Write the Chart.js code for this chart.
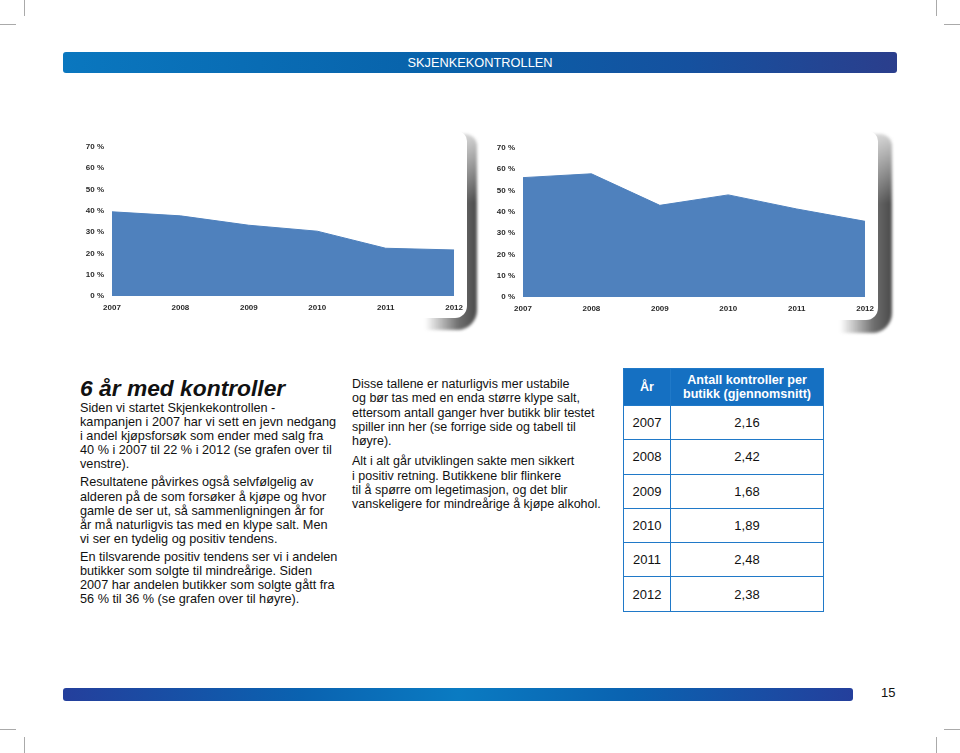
<!DOCTYPE html>
<html>
<head>
<meta charset="utf-8">
<script src="https://cdn.jsdelivr.net/npm/chart.js@4.4.0/dist/chart.umd.min.js"></script>
<style>
  html, body { margin: 0; padding: 0; background: #fff; }
  body { width: 960px; height: 753px; position: relative; overflow: hidden; font-family: "Liberation Sans", Arial, sans-serif; color: #111; }
  .mark { position: absolute; background: #aaa; }
  .banner { position: absolute; left: 63px; top: 52px; width: 834px; height: 21px; border-radius: 3px;
    background: linear-gradient(to right, #0a77bf 0%, #0862aa 45%, #15519f 75%, #2b3e8c 100%);
    color: #fff; font-size: 12.8px; text-align: center; line-height: 22px; }
  .footbar { position: absolute; left: 63px; top: 688px; width: 790px; height: 13px; border-radius: 3px;
    background: linear-gradient(to right, #243f9c 0%, #0a62b0 30%, #0a7bc2 50%, #0a62b0 72%, #243f9c 100%); }
  .card { position: absolute; background: #fff; border-radius: 0 10px 12px 0; }
  .shadow { position: absolute; border-radius: 0 12px 20px 0; filter: blur(1.5px);
    background: linear-gradient(to bottom, rgba(255,255,255,0.75), rgba(255,255,255,0) 35%),
                linear-gradient(to right, rgba(90,90,90,0) 0%, #6e6e6e 65%, #4a4a4a 100%); }
  canvas { position: absolute; }
  h1 { position: absolute; left: 80px; top: 377px; margin: 0; font-size: 22.8px; line-height: 22px; font-weight: bold; font-style: italic; color: #111; }
  .col1 { position: absolute; left: 80px; top: 401px; width: 270px; font-size: 12.7px; line-height: 14.1px; }
  .col1 p { margin: 0 0 4px 0; }
  .col2 { position: absolute; left: 352px; top: 377px; width: 270px; font-size: 12.5px; line-height: 14.3px; }
  .col2 p { margin: 0 0 6px 0; }
  table { position: absolute; left: 623px; top: 368px; width: 201px; border-collapse: collapse; table-layout: fixed; }
  td, th { border: 1.5px solid #2079c8; text-align: center; padding: 0; font-size: 13px; }
  th { background: #1570c2; color: #fff; font-weight: bold; height: 36px; font-size: 12.6px; line-height: 14px; }
  td { height: 33.3px; }
  .pnum { position: absolute; left: 881px; top: 685px; font-size: 13px; }
</style>
</head>
<body>
<div class="mark" style="left:24px;top:0;width:1px;height:16px"></div>
<div class="mark" style="left:0;top:24px;width:16px;height:1px"></div>
<div class="mark" style="left:936px;top:0;width:1px;height:16px"></div>
<div class="mark" style="left:944px;top:24px;width:16px;height:1px"></div>
<div class="mark" style="left:0;top:729px;width:16px;height:1px"></div>
<div class="mark" style="left:24px;top:737px;width:1px;height:16px"></div>
<div class="mark" style="left:944px;top:729px;width:16px;height:1px"></div>
<div class="mark" style="left:936px;top:737px;width:1px;height:16px"></div>

<div class="banner">SKJENKEKONTROLLEN</div>

<div class="shadow" style="left:425px;top:134px;width:52px;height:196px"></div>
<div class="card" style="left:72px;top:131px;width:395px;height:187px"></div>
<div class="shadow" style="left:840px;top:134px;width:52px;height:199px"></div>
<div class="card" style="left:485px;top:131px;width:393px;height:189px"></div>

<canvas id="salesChart" width="392" height="185" style="left:78px;top:134px"></canvas>
<canvas id="minorChart" width="392" height="185" style="left:489px;top:135px"></canvas>

<h1>6 år med kontroller</h1>
<div class="col1">
  <p>Siden vi startet Skjenkekontrollen -<br>kampanjen i 2007 har vi sett en jevn nedgang<br>i andel kjøpsforsøk som ender med salg fra<br>40 % i 2007 til 22 % i 2012 (se grafen over til<br>venstre).</p>
  <p>Resultatene påvirkes også selvfølgelig av<br>alderen på de som forsøker å kjøpe og hvor<br>gamle de ser ut, så sammenligningen år for<br>år må naturligvis tas med en klype salt. Men<br>vi ser en tydelig og positiv tendens.</p>
  <p>En tilsvarende positiv tendens ser vi i andelen<br>butikker som solgte til mindreårige. Siden<br>2007 har andelen butikker som solgte gått fra<br>56 % til 36 % (se grafen over til høyre).</p>
</div>
<div class="col2">
  <p>Disse tallene er naturligvis mer ustabile<br>og bør tas med en enda større klype salt,<br>ettersom antall ganger hver butikk blir testet<br>spiller inn her (se forrige side og tabell til<br>høyre).</p>
  <p>Alt i alt går utviklingen sakte men sikkert<br>i positiv retning. Butikkene blir flinkere<br>til å spørre om legetimasjon, og det blir<br>vanskeligere for mindreårige å kjøpe alkohol.</p>
</div>

<table id="controlTable"></table>

<div class="footbar"></div>
<div class="pnum">15</div>

<script>
// data read from the page
var years = ['2007', '2008', '2009', '2010', '2011', '2012'];
var salesShare = [39.5, 37.6, 33.2, 30.4, 22.4, 21.6];   // left chart, % of attempts ending in a sale
var minorShare = [56, 57.8, 43, 47.9, 41.3, 35.5];       // right chart, % of shops selling to minors
var controlsPerShop = ['2,16', '2,42', '1,68', '1,89', '2,48', '2,38'];
var tableHead = ['År', 'Antall kontroller per<br>butikk (gjennomsnitt)'];

// table
var html = '<colgroup><col style="width:47px"><col></colgroup>';
html += '<tr><th>' + tableHead[0] + '</th><th>' + tableHead[1] + '</th></tr>';
for (var i = 0; i < years.length; i++) {
    html += '<tr><td>' + years[i] + '</td><td>' + controlsPerShop[i] + '</td></tr>';
}
document.getElementById('controlTable').innerHTML = html;

var tickFont = { family: '"Liberation Sans", Arial, sans-serif', size: 8, weight: 'bold' };

function makeChart(id, values) {
    var ctx = document.getElementById(id).getContext('2d');
    return new Chart(ctx, {
        type: 'line',
        data: {
            labels: years,
            datasets: [{
                data: values,
                fill: 'origin',
                backgroundColor: '#4f81bd',
                borderColor: '#4f81bd',
                borderWidth: 1,
                pointRadius: 0,
                tension: 0
            }]
        },
        options: {
            responsive: false,
            animation: false,
            layout: { padding: { top: 11, right: 12, bottom: 0, left: 0 } },
            plugins: { legend: { display: false }, tooltip: { enabled: false } },
            scales: {
                x: {
                    grid: { display: false, drawTicks: false },
                    border: { display: false },
                    ticks: { padding: 7, maxRotation: 0, autoSkip: false, font: tickFont, color: '#2a2a2a' },
                    afterFit: function (s) { s.height = 23; }
                },
                y: {
                    min: 0, max: 70,
                    grid: { display: false, drawTicks: false },
                    border: { display: false },
                    ticks: { stepSize: 10, padding: 8, font: tickFont, color: '#2a2a2a',
                        callback: function (v) { return v + ' %'; } },
                    afterFit: function (s) { s.width = 34; }
                }
            }
        }
    });
}

makeChart('salesChart', salesShare);
makeChart('minorChart', minorShare);
</script>
</body>
</html>
